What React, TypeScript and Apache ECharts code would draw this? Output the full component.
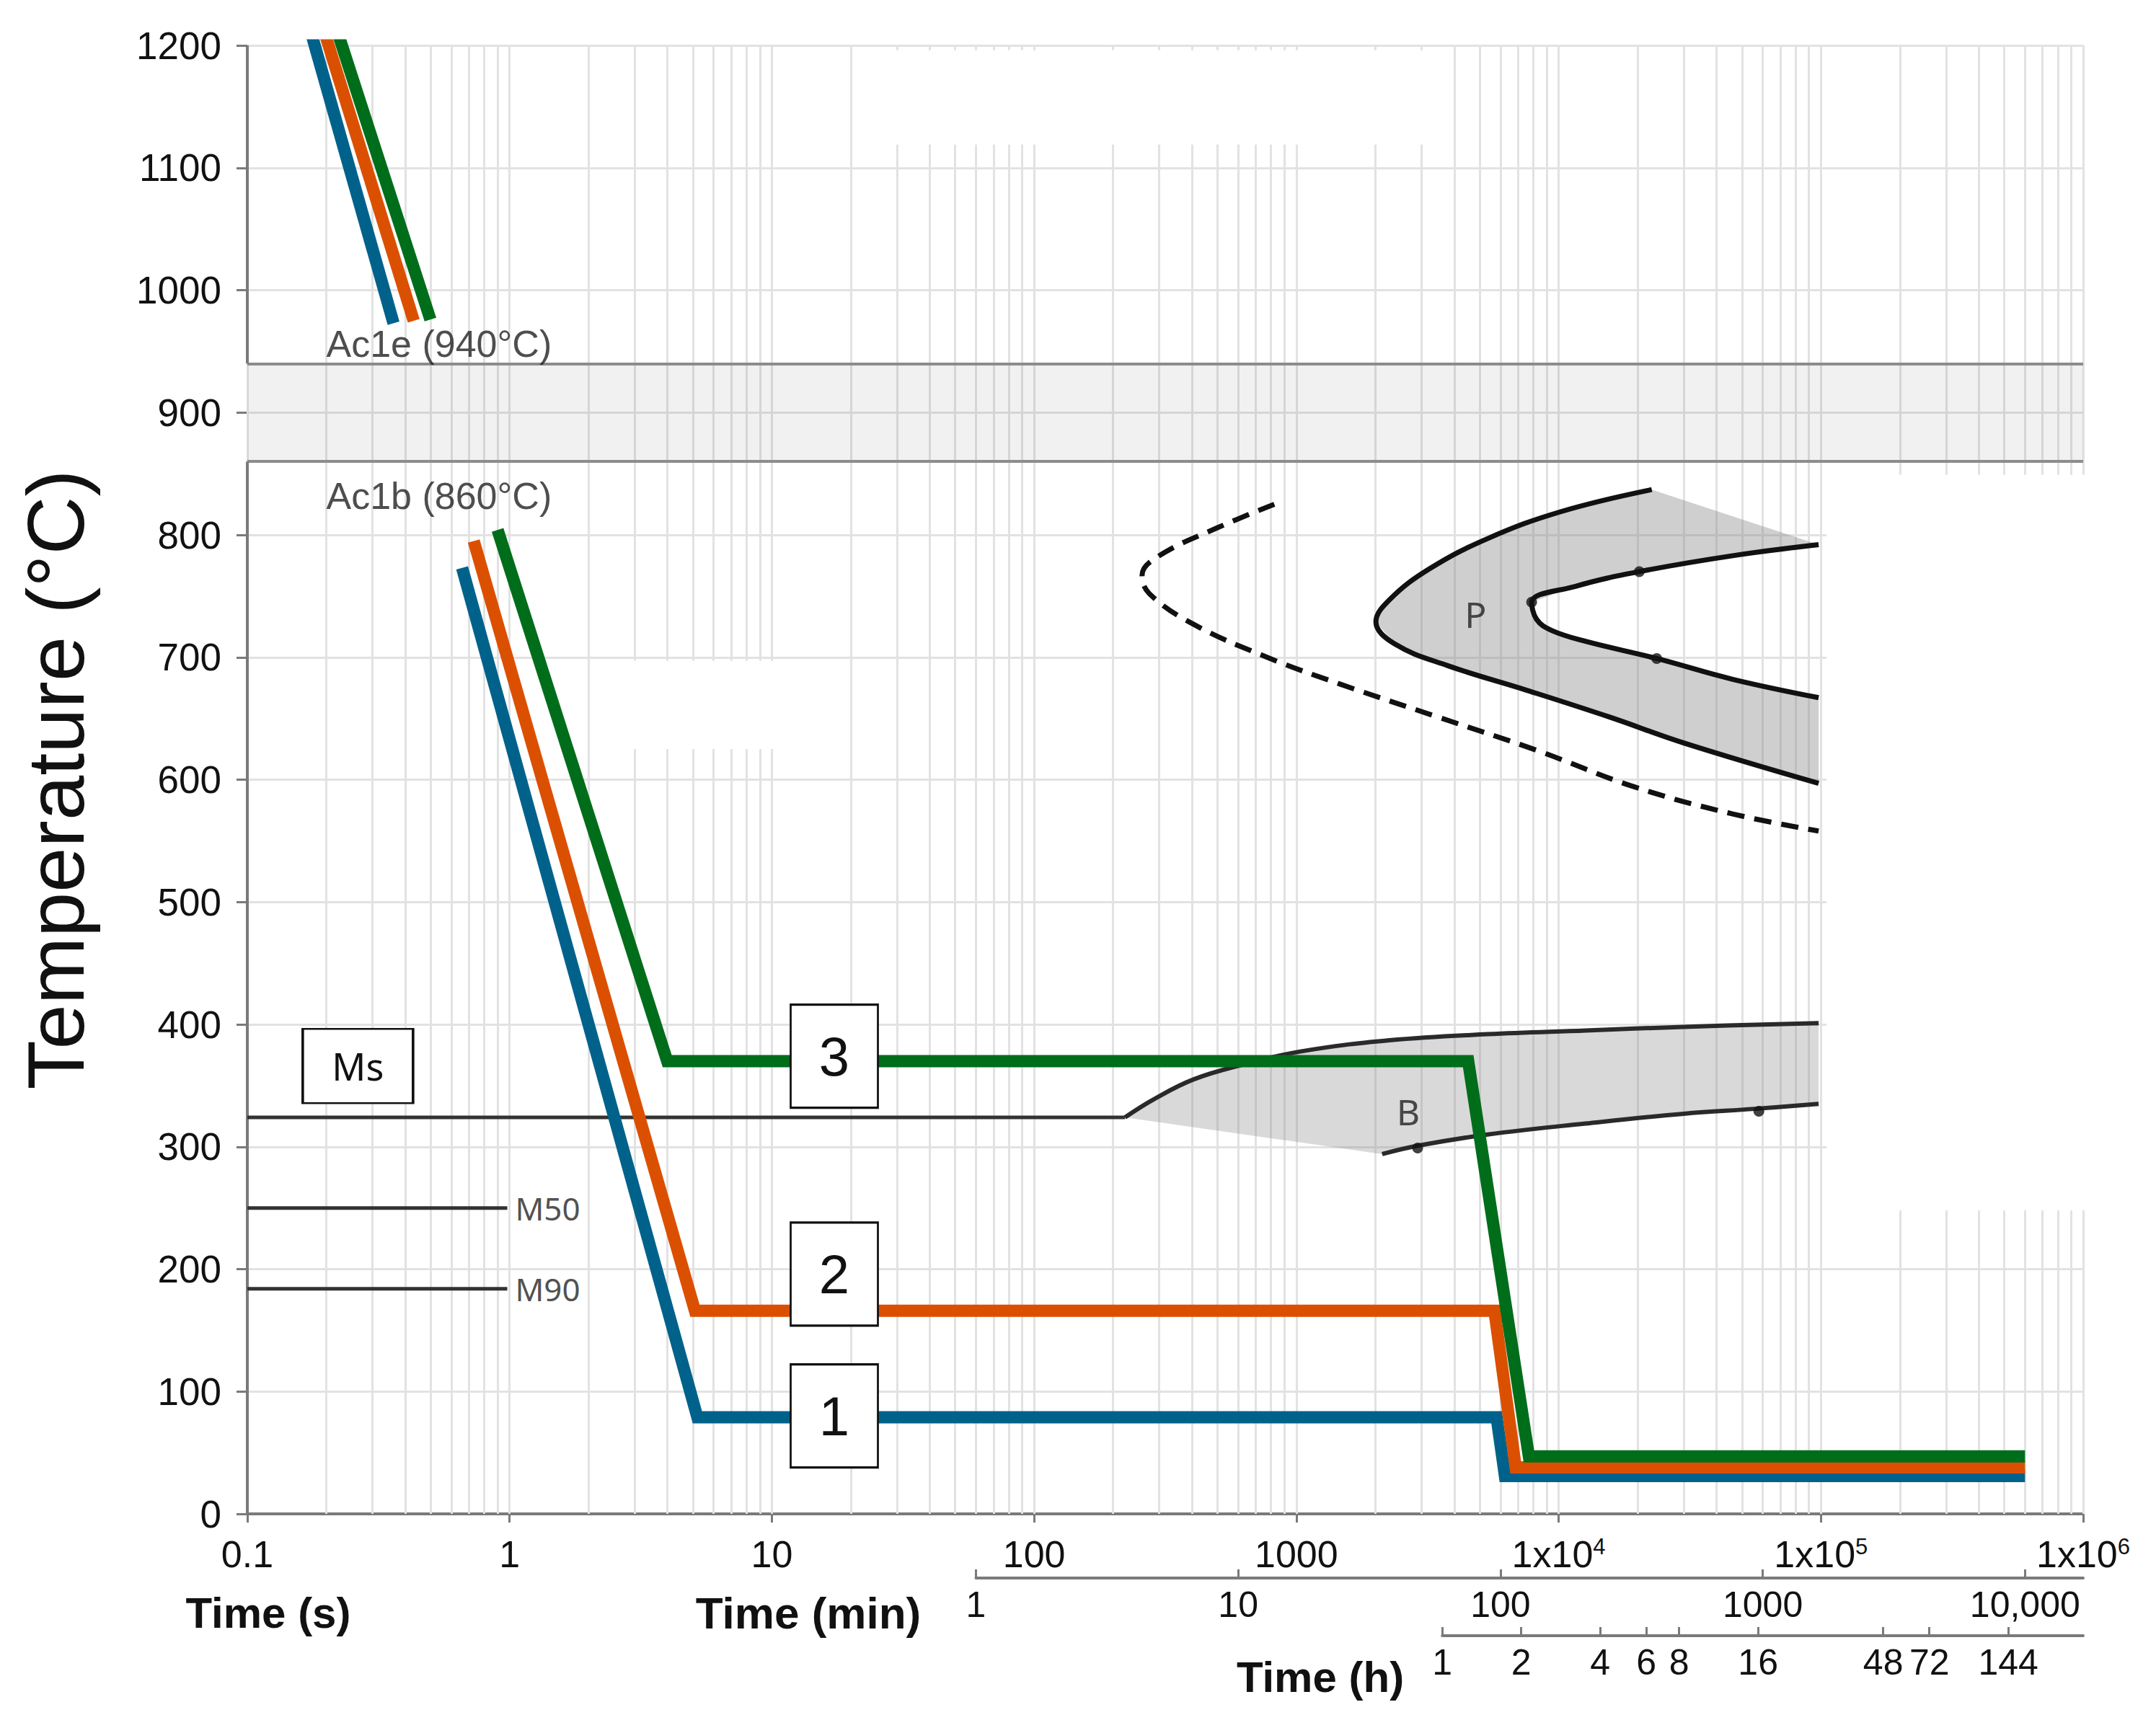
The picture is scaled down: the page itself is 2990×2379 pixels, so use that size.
import React, { useEffect, useRef } from "react";
import * as echarts from "echarts";

// ---------- tick labels ----------
const MAIN_TICKS = [0.1, 1, 10, 100, 1000, 1e4, 1e5, 1e6];
const MAIN_LABELS = ["0.1", "1", "10", "100", "1000", "1x10{sup|4}", "1x10{sup|5}", "1x10{sup|6}"];
const MIN_TICKS = [1, 10, 100, 1000, 10000];
const MIN_LABELS = ["1", "10", "100", "1000", "10,000"];
const HOUR_TICKS = [1, 2, 4, 6, 8, 16, 48, 72, 144];
const HOUR_LABELS = ["1", "2", "4", "6", "8", "16", "48", "72", "144"];

// ---------- reference temperatures ----------
const AC1E = 940;
const AC1B = 860;
const MS_LINE = [[0.1, 324], [222, 324]];
const M50_LINE = [[0.1, 250], [0.98, 250]];
const M90_LINE = [[0.1, 184], [0.98, 184]];

// ---------- cooling curves (time s, temperature °C) ----------
const CURVE1_A = [[0.17, 1220], [0.361, 973]];
const CURVE1_B = [[0.659, 773], [5.2, 79], [5800, 79], [6240, 31], [600000, 31]];
const CURVE2_A = [[0.191, 1220], [0.431, 975]];
const CURVE2_B = [[0.73, 795], [5.09, 166], [5690, 166], [6860, 38], [600000, 38]];
const CURVE3_A = [[0.214, 1220], [0.499, 976]];
const CURVE3_B = [[0.9, 804], [3.99, 370], [4520, 370], [7700, 47], [600000, 47]];

// ---------- transformation curves ----------
const P_OUTER = [[22650, 837], [10200, 819], [5360, 797], [3200, 772], [2265, 747], [2010, 729], [2366, 711], [3793, 693], [7568, 673], [15700, 651], [30000, 630], [98000, 597]];
const P_INNER = [[98000, 792], [46100, 783], [20300, 770], [11600, 758], [7890, 745], [8240, 731], [9380, 722], [12680, 713], [23660, 699], [46100, 682], [98000, 667]];
const P_DASH = [[824, 825], [502, 806], [300, 783], [258, 767], [275, 752], [405, 727], [773, 700], [1472, 678], [3483, 651], [8241, 624], [19500, 594], [46100, 572], [98000, 558]];
const B_UPPER = [[222, 324], [287, 339], [405, 355], [622, 367], [1045, 378], [2265, 387], [5358, 392], [12680, 395], [30000, 398], [98000, 401]];
const B_LOWER = [[2123, 294], [2931, 301], [5358, 310], [12677, 319], [30000, 327], [55976, 331], [98000, 335]];
const DOTS = [[20300, 770], [7890, 745], [23660, 699], [2900, 299], [58000, 329]];

// ---------- blank (white) patches of the original figure: [t1, T1, t2, T2] ----------
const WHITE_PATCHES = [
  [26, 1119, 3200, 1196],
  [2.95, 625, 10.4, 697],
  [105000, 248, 1e6, 849],
];

// ---------- labels ----------
const BOXES = [[17.3, 374, "3"], [17.3, 196, "2"], [17.3, 80, "1"]];
const MS_BOX = [[0.264, 366, "Ms"]];
const TEXTS = [
  { v: [0.2, 956], t: "Ac1e (940°C)", align: "left", font: "Liberation Sans", size: 52 },
  { v: [0.2, 832], t: "Ac1b (860°C)", align: "left", font: "Liberation Sans", size: 52 },
  { v: [1.05, 250], t: "M50", align: "left", font: "Noto Sans", size: 44 },
  { v: [1.05, 184], t: "M90", align: "left", font: "Noto Sans", size: 44 },
  { v: [4820, 735], t: "P", align: "center", font: "Noto Sans", size: 50 },
  { v: [2670, 329], t: "B", align: "center", font: "Noto Sans", size: 50 },
];

// ---------- layout ----------
const W = 2990;
const H = 2379;
const GL = 343;
const GT = 63;
const GW = 2546;
const GH = 2037;
const XMIN = 0.1;
const XMAX = 1e6;
const FONT = "Liberation Sans";
const AXIS_COLOR = "#7a7a7a";
const GRID_COLOR = "#e2e2e2";
const BLUE = "#00628b";
const ORANGE = "#db5000";
const GREEN = "#006d1a";
const CURVE_W = 17;

const xPix = (sec: number) =>
  GL + (GW * (Math.log10(sec) - Math.log10(XMIN))) / (Math.log10(XMAX) - Math.log10(XMIN));

const lookup = (ticks: number[], labels: string[]) => (v: number) => {
  const i = ticks.findIndex((t) => Math.abs(Math.log10(t) - Math.log10(v)) < 1e-3);
  return i >= 0 ? labels[i] : "";
};

// log-axis minor grid positions (1..9 per decade)
const GRID_X: number[] = [];
for (let e = -1; e < 6; e++) for (let m = 1; m < 10; m++) GRID_X.push(m * Math.pow(10, e));
GRID_X.push(1e6);

function lineSeries(data: number[][], color: string, width: number, extra: any = {}) {
  return {
    type: "line",
    xAxisIndex: 0,
    yAxisIndex: 0,
    data,
    showSymbol: false,
    symbol: "none",
    silent: true,
    lineStyle: { color, width, cap: "butt", join: "miter", ...(extra.lineStyle || {}) },
    smooth: extra.smooth || false,
    z: extra.z || 4,
  };
}

function polySeries(points: number[][], fill: string) {
  return {
    type: "custom",
    xAxisIndex: 0,
    yAxisIndex: 0,
    silent: true,
    z: 3,
    data: [points[0]],
    renderItem: (_p: any, api: any) => ({
      type: "polygon",
      shape: { points: points.map((p) => api.coord(p)) },
      style: { fill },
    }),
  };
}

function buildOption() {
  const rightPad = W - GL - GW;
  return {
    animation: false,
    backgroundColor: "#ffffff",
    grid: [
      { left: GL, top: GT, width: GW, height: GH },
      { left: xPix(60), right: rightPad, top: 2188, height: 1 },
      { left: xPix(3600), right: rightPad, top: 2268, height: 1 },
    ],
    xAxis: [
      {
        gridIndex: 0,
        type: "log",
        logBase: 10,
        min: XMIN,
        max: XMAX,
        axisLine: { show: true, onZero: false, lineStyle: { color: AXIS_COLOR, width: 4 } },
        axisTick: { show: true, length: 12, customValues: MAIN_TICKS, lineStyle: { color: AXIS_COLOR, width: 3 } },
        axisLabel: {
          customValues: MAIN_TICKS,
          formatter: lookup(MAIN_TICKS, MAIN_LABELS),
          margin: 30,
          color: "#111",
          fontFamily: FONT,
          fontSize: 52,
          rich: {
            sup: { fontSize: 31, lineHeight: 30, verticalAlign: "top", fontFamily: FONT, color: "#111" },
          },
        },
        splitLine: { show: false },
        minorTick: { show: false },
        minorSplitLine: { show: false },
      },
      {
        gridIndex: 1,
        type: "log",
        logBase: 10,
        min: 1,
        max: XMAX / 60,
        axisLine: { show: true, onZero: false, lineStyle: { color: AXIS_COLOR, width: 4 } },
        axisTick: { show: true, inside: true, length: 12, customValues: MIN_TICKS, lineStyle: { color: AXIS_COLOR, width: 3 } },
        axisLabel: {
          customValues: MIN_TICKS,
          formatter: lookup(MIN_TICKS, MIN_LABELS),
          margin: 12,
          color: "#111",
          fontFamily: FONT,
          fontSize: 50,
        },
        splitLine: { show: false },
      },
      {
        gridIndex: 2,
        type: "log",
        logBase: 10,
        min: 1,
        max: XMAX / 3600,
        axisLine: { show: true, onZero: false, lineStyle: { color: AXIS_COLOR, width: 4 } },
        axisTick: { show: true, inside: true, length: 12, customValues: HOUR_TICKS, lineStyle: { color: AXIS_COLOR, width: 3 } },
        axisLabel: {
          customValues: HOUR_TICKS,
          formatter: lookup(HOUR_TICKS, HOUR_LABELS),
          margin: 12,
          color: "#111",
          fontFamily: FONT,
          fontSize: 50,
        },
        splitLine: { show: false },
      },
    ],
    yAxis: [
      {
        gridIndex: 0,
        type: "value",
        min: 0,
        max: 1200,
        interval: 100,
        name: "Temperature (°C)",
        nameLocation: "middle",
        nameGap: 210,
        nameTextStyle: { fontSize: 112, color: "#111", fontFamily: FONT },
        axisLine: { show: false },
        axisTick: { show: true, length: 15, lineStyle: { color: AXIS_COLOR, width: 3 } },
        axisLabel: { margin: 36, color: "#111", fontFamily: FONT, fontSize: 53, formatter: (v: number) => String(v) },
        splitLine: { show: true, lineStyle: { color: GRID_COLOR, width: 3 } },
      },
      { gridIndex: 1, type: "value", show: false, min: 0, max: 1 },
      { gridIndex: 2, type: "value", show: false, min: 0, max: 1 },
    ],
    graphic: [
      { type: "text", x: 372, y: 2237, style: { text: "Time (s)", fontSize: 60, fontWeight: "bold", fontFamily: FONT, fill: "#111", align: "center", verticalAlign: "middle", textAlign: "center", textVerticalAlign: "middle" } },
      { type: "text", x: 1121, y: 2237, style: { text: "Time (min)", fontSize: 62, fontWeight: "bold", fontFamily: FONT, fill: "#111", align: "center", verticalAlign: "middle", textAlign: "center", textVerticalAlign: "middle" } },
      { type: "text", x: 1831, y: 2326, style: { text: "Time (h)", fontSize: 60, fontWeight: "bold", fontFamily: FONT, fill: "#111", align: "center", verticalAlign: "middle", textAlign: "center", textVerticalAlign: "middle" } },
    ],
    series: [
      // vertical log grid lines
      {
        type: "line",
        xAxisIndex: 0,
        yAxisIndex: 0,
        data: [],
        silent: true,
        z: 1,
        markLine: {
          z: 1,
          silent: true,
          animation: false,
          symbol: ["none", "none"],
          label: { show: false },
          lineStyle: { color: GRID_COLOR, width: 3, type: "solid" },
          data: GRID_X.map((v) => ({ xAxis: v })),
        },
      },
      // white patches of the original figure
      {
        type: "custom",
        xAxisIndex: 0,
        yAxisIndex: 0,
        silent: true,
        z: 2,
        data: WHITE_PATCHES,
        renderItem: (_p: any, api: any) => {
          const a = api.coord([api.value(0), api.value(3)]);
          const b = api.coord([api.value(2), api.value(1)]);
          return {
            type: "rect",
            shape: { x: a[0], y: a[1], width: b[0] - a[0] + 3, height: b[1] - a[1] },
            style: { fill: "#ffffff" },
          };
        },
      },
      // Ac1 band, its borders and the y axis line
      {
        type: "line",
        xAxisIndex: 0,
        yAxisIndex: 0,
        data: [],
        silent: true,
        clip: false,
        z: 3,
        markArea: {
          z: 3,
          silent: true,
          itemStyle: { color: "rgba(0,0,0,0.055)" },
          data: [[{ yAxis: AC1B }, { yAxis: AC1E }]],
        },
        markLine: {
          z: 3,
          silent: true,
          animation: false,
          symbol: ["none", "none"],
          label: { show: false },
          lineStyle: { color: "#8c8c8c", width: 4, type: "solid" },
          data: [
            { yAxis: AC1E },
            { yAxis: AC1B },
            [{ coord: [XMIN, 0], lineStyle: { color: AXIS_COLOR, width: 4, type: "solid" } }, { coord: [XMIN, AC1B] }],
            [{ coord: [XMIN, AC1E], lineStyle: { color: AXIS_COLOR, width: 4, type: "solid" } }, { coord: [XMIN, 1200] }],
          ],
        },
      },
      // shaded transformation regions
      polySeries([...P_OUTER, ...P_INNER.slice().reverse()], "rgba(128,128,128,0.38)"),
      polySeries([...B_UPPER, ...B_LOWER.slice().reverse()], "rgba(128,128,128,0.30)"),
      // transformation boundary lines
      lineSeries(P_DASH, "#111", 7, { smooth: 0.4, z: 5, lineStyle: { type: [24, 14] } }),
      lineSeries(P_OUTER, "#111", 7, { smooth: 0.4, z: 5 }),
      lineSeries(P_INNER, "#111", 7, { smooth: 0.4, z: 5 }),
      lineSeries(B_UPPER, "#2a2a2a", 6, { smooth: 0.4, z: 5 }),
      lineSeries(B_LOWER, "#2a2a2a", 6, { smooth: 0.4, z: 5 }),
      lineSeries(MS_LINE, "#333", 5, { z: 5 }),
      lineSeries(M50_LINE, "#333", 5, { z: 5 }),
      lineSeries(M90_LINE, "#333", 5, { z: 5 }),
      {
        type: "scatter",
        xAxisIndex: 0,
        yAxisIndex: 0,
        data: DOTS,
        symbolSize: 15,
        itemStyle: { color: "#111" },
        silent: true,
        z: 6,
      },
      // cooling paths
      lineSeries(CURVE1_A, BLUE, CURVE_W, { z: 7 }),
      lineSeries(CURVE1_B, BLUE, CURVE_W, { z: 7 }),
      lineSeries(CURVE2_A, ORANGE, CURVE_W, { z: 8 }),
      lineSeries(CURVE2_B, ORANGE, CURVE_W, { z: 8 }),
      lineSeries(CURVE3_A, GREEN, CURVE_W, { z: 9 }),
      lineSeries(CURVE3_B, GREEN, CURVE_W, { z: 9 }),
      // numbered boxes
      {
        type: "scatter",
        xAxisIndex: 0,
        yAxisIndex: 0,
        data: BOXES,
        symbol: "rect",
        symbolSize: [121, 143],
        itemStyle: { color: "#ffffff", borderColor: "#111", borderWidth: 3, opacity: 1 },
        label: { show: true, position: "inside", formatter: (p: any) => p.data[2], fontSize: 76, color: "#111", fontFamily: FONT },
        silent: true,
        z: 11,
      },
      {
        type: "scatter",
        xAxisIndex: 0,
        yAxisIndex: 0,
        data: MS_BOX,
        symbol: "rect",
        symbolSize: [153, 103],
        itemStyle: { color: "#ffffff", borderColor: "#111", borderWidth: 3, opacity: 1 },
        label: { show: true, position: "inside", formatter: (p: any) => p.data[2], fontSize: 52, color: "#111", fontFamily: "Noto Sans" },
        silent: true,
        z: 11,
      },
      // free text labels
      {
        type: "scatter",
        xAxisIndex: 0,
        yAxisIndex: 0,
        symbolSize: 1,
        itemStyle: { color: "rgba(0,0,0,0)" },
        silent: true,
        z: 11,
        data: TEXTS.map((d) => ({
          value: d.v,
          label: {
            show: true,
            position: "inside",
            formatter: d.t,
            align: d.align,
            verticalAlign: "middle",
            fontSize: d.size,
            fontFamily: d.font,
            color: "#222",
          },
        })),
      },
    ],
  };
}

export default function App() {
  const ref = useRef<HTMLDivElement>(null);
  useEffect(() => {
    if (!ref.current) return;
    const chart = echarts.init(ref.current, null, { renderer: "svg" });
    chart.setOption(buildOption() as any);
    return () => chart.dispose();
  }, []);
  return (
    <div
      ref={ref}
      style={{ position: "fixed", left: 0, top: 0, width: W, height: H, background: "#ffffff" }}
    />
  );
}
